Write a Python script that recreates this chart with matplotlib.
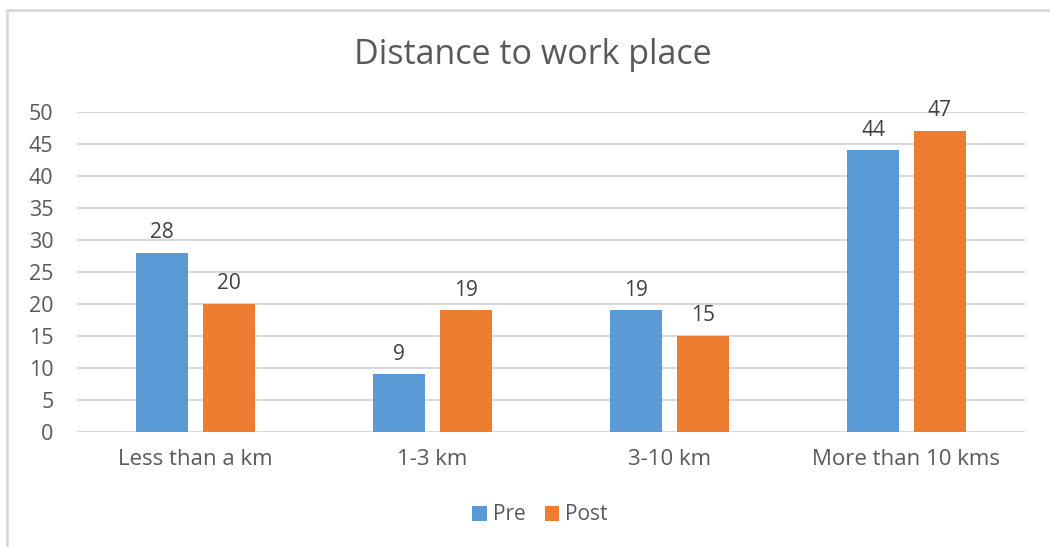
import matplotlib
matplotlib.use("Agg")
import matplotlib.pyplot as plt
import numpy as np
from matplotlib.patches import Rectangle

categories = ["Less than a km", "1-3 km", "3-10 km", "More than 10 kms"]
pre = [28, 9, 19, 44]
post = [20, 19, 15, 47]
yticks = [0, 5, 10, 15, 20, 25, 30, 35, 40, 45, 50]

blue = "#5B9BD5"
orange = "#ED7D31"
grey_txt = "#595959"

plt.rcParams["font.family"] = ["Open Sans", "DejaVu Sans"]

fig = plt.figure(figsize=(10.5, 5.47), dpi=100)
ax = fig.add_axes([77/1050, 115/547, (1025-77)/1050, (432-112)/547])

# chart border (Excel-like frame, cut off at right/bottom)
fig.patches.append(Rectangle((7/1050, -0.1), 1.2, 1 - 10/547 + 0.1,
                             transform=fig.transFigure, fill=False,
                             edgecolor="#D9D9D9", linewidth=2))

x = np.arange(len(categories))
w = 0.22
off = 0.141
b1 = ax.bar(x - off, pre, w, color=blue, label="Pre", zorder=3)
b2 = ax.bar(x + off, post, w, color=orange, label="Post", zorder=3)

for bars in (b1, b2):
    for r in bars:
        ax.annotate(str(int(r.get_height())),
                    (r.get_x() + r.get_width()/2, r.get_height()),
                    xytext=(0, 7), textcoords="offset points",
                    ha="center", va="bottom", fontsize=15, color="#404040")

ax.set_xlim(-0.5, 3.5)
ax.set_ylim(0, 50)
ax.set_yticks(yticks)
ax.set_xticks(x)
ax.set_xticklabels(categories)
ax.grid(axis="y", color="#D9D9D9", linewidth=1.5, zorder=0)
for s in ax.spines.values():
    s.set_visible(False)
ax.tick_params(length=0, labelsize=15.5, labelcolor=grey_txt)
ax.tick_params(axis="y", pad=17)
ax.tick_params(axis="x", pad=12, labelsize=16)

fig.text(533/1050, 1 - 55/547, "Distance to work place", ha="center",
         va="center", fontsize=24.5, color=grey_txt)

fig.legend(loc="center", bbox_to_anchor=(540/1050, 1 - 515/547), ncol=2,
           frameon=False, fontsize=15, handlelength=0.7, handleheight=0.7,
           handletextpad=0.3, columnspacing=0.9, labelcolor=grey_txt)

fig.savefig("out.png", dpi=100)
